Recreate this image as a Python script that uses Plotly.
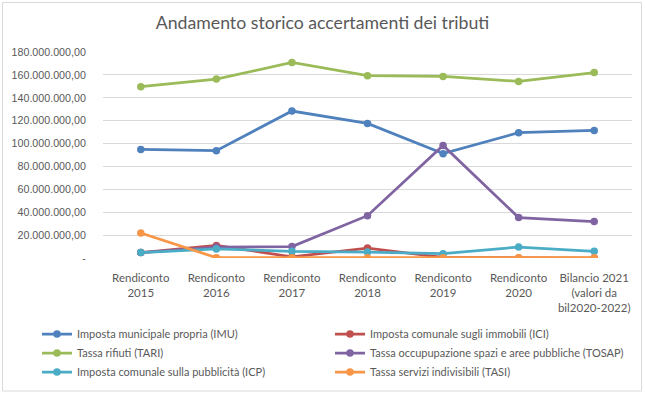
import plotly.graph_objects as go

categories = ["Rendiconto<br>2015", "Rendiconto<br>2016", "Rendiconto<br>2017", "Rendiconto<br>2018",
              "Rendiconto<br>2019", "Rendiconto<br>2020", "Bilancio 2021<br>(valori da<br>bil2020-2022)"]

imu = [94.9e6, 93.8e6, 128.4e6, 117.6e6, 91.2e6, 109.5e6, 111.5e6]
ici = [4.7e6, 11.0e6, 1.0e6, 8.7e6, 0.5e6, 0.0, 0.0]
tari = [149.7e6, 156.3e6, 170.9e6, 159.3e6, 158.7e6, 154.3e6, 162.0e6]
tosap = [4.7e6, 9.6e6, 10.0e6, 37.0e6, 98.4e6, 35.3e6, 31.8e6]
icp = [4.7e6, 7.9e6, 5.8e6, 5.2e6, 3.8e6, 9.6e6, 5.8e6]
tasi = [21.8e6, 0.3e6, 0.3e6, 0.3e6, 0.3e6, 0.3e6, 0.3e6]

series_names = ["Imposta municipale propria (IMU)", "Imposta comunale sugli immobili (ICI)",
                "Tassa rifiuti (TARI)", "Tassa occupupazione spazi e aree pubbliche (TOSAP)",
                "Imposta comunale sulla pubblicità (ICP)", "Tassa servizi indivisibili (TASI)"]
series_values = [imu, ici, tari, tosap, icp, tasi]
colors = ["#4F81BD", "#C0504D", "#9BBB59", "#8064A2", "#4BACC6", "#F79646"]
legend_ids = ["legend", "legend2", "legend", "legend2", "legend", "legend2"]

ytick_vals = [0, 20e6, 40e6, 60e6, 80e6, 100e6, 120e6, 140e6, 160e6, 180e6]
ytick_text = ["-", "20.000.000,00", "40.000.000,00", "60.000.000,00", "80.000.000,00",
              "100.000.000,00", "120.000.000,00", "140.000.000,00", "160.000.000,00", "180.000.000,00"]

W, H = 645, 394
L, R, T, B = 103, 13, 52, 136
pw, ph = W - L - R, H - T - B

fig = go.Figure()
for name, vals, col, lg in zip(series_names, series_values, colors, legend_ids):
    fig.add_trace(go.Scatter(
        x=list(range(len(categories))), y=vals, name=name, mode="lines+markers",
        line=dict(color=col, width=2.75), marker=dict(color=col, size=7.5),
        legend=lg,
    ))

font_cal = "Lato, Liberation Sans, Arial, sans-serif"
font_ax = "Liberation Sans, Arial, sans-serif"
legend_common = dict(orientation="v", xref="container", yref="container",
                     yanchor="middle", y=1 - 353 / H, xanchor="left",
                     font=dict(family=font_cal, size=11, color="#595959"),
                     itemwidth=30, bgcolor="rgba(0,0,0,0)", borderwidth=0)

fig.update_layout(
    width=W, height=H,
    margin=dict(l=L, r=R, t=T, b=B, pad=0, autoexpand=False),
    paper_bgcolor="white", plot_bgcolor="white",
    title=dict(text="Andamento storico accertamenti dei tributi", x=0.5, xref="container",
               xanchor="center", yref="container", y=1 - 23 / H, yanchor="middle",
               font=dict(family=font_cal, size=17.7, color="#595959")),
    showlegend=True,
    legend=dict(x=37 / W, **legend_common),
    legend2=dict(x=330 / W, **legend_common),
    xaxis=dict(tickmode="array", tickvals=list(range(len(categories))), ticktext=categories,
               range=[-0.5, len(categories) - 0.5], showgrid=False, zeroline=False,
               showline=False, ticks="outside", ticklen=9, tickcolor="rgba(0,0,0,0)",
               tickfont=dict(family=font_cal, size=11.5, color="#595959")),
    yaxis=dict(tickmode="array", tickvals=ytick_vals, ticktext=ytick_text, range=[0, 180e6],
               showgrid=True, gridcolor="#D9D9D9", gridwidth=1, zeroline=False, showline=False,
               ticks="outside", ticklen=14, tickcolor="rgba(0,0,0,0)",
               tickfont=dict(family=font_ax, size=10.7, color="#595959")),
    shapes=[dict(type="rect", xref="paper", yref="paper",
                 x0=(2.5 - L) / pw, x1=(W - 3.5 - L) / pw,
                 y0=(H - B - (H - 3)) / ph, y1=(H - B - 2.5) / ph,
                 line=dict(color="#D9D9D9", width=1), fillcolor="rgba(0,0,0,0)", layer="below")],
)
fig.write_html("out.html", config={"displayModeBar": False},
               post_script="document.body.style.margin='0px';document.body.style.overflow='hidden';")
